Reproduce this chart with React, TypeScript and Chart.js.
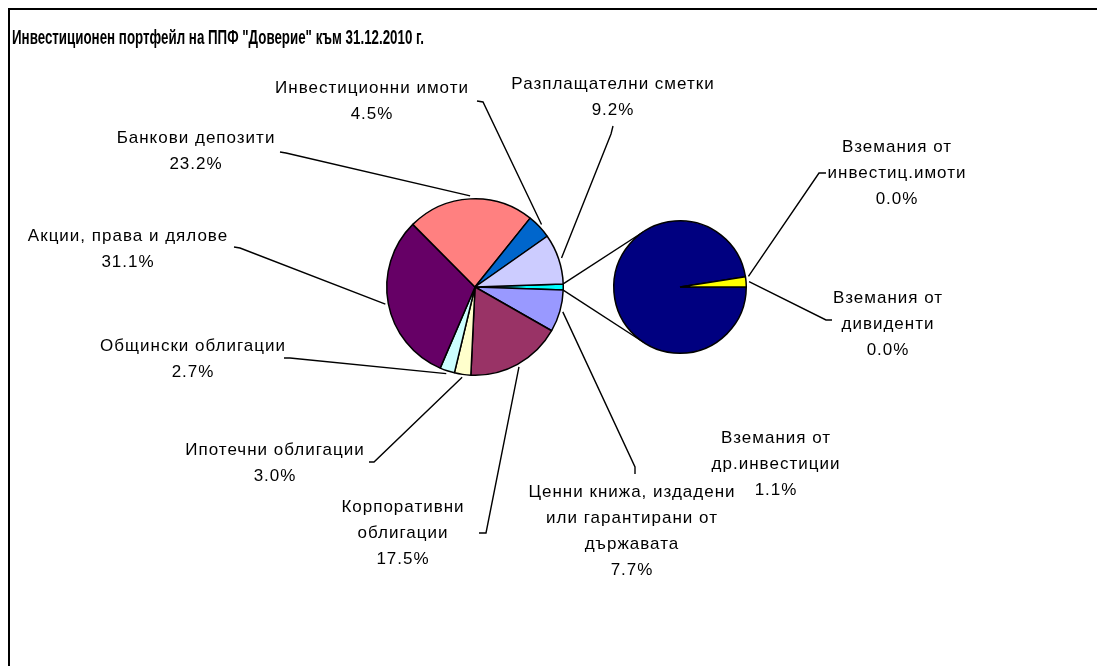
import React, { useEffect, useRef } from 'react';
import { Chart, registerables } from 'chart.js';

Chart.register(...registerables);

const W = 1097;
const H = 666;

const titleText = 'Инвестиционен портфейл на ППФ "Доверие" към 31.12.2010 г.';

// Main pie (first slice = "other", expanded into the secondary pie)
const mainCategories = [
  'Други вземания',
  'Ценни книжа, издадени или гарантирани от държавата',
  'Корпоративни облигации',
  'Ипотечни облигации',
  'Общински облигации',
  'Акции, права и дялове',
  'Банкови депозити',
  'Инвестиционни имоти',
  'Разплащателни сметки',
];
const mainValues = [1.1, 7.7, 17.5, 3.0, 2.7, 31.1, 23.2, 4.5, 9.2];
const mainColors = ['#00FFFF', '#9999FF', '#993366', '#FFFFCC', '#CCFFFF', '#660066', '#FF8080', '#0066CC', '#CCCCFF'];
const mainLabelLines: string[][] = [
  [],
  ['Ценни книжа, издадени', 'или гарантирани от', 'държавата'],
  ['Корпоративни', 'облигации'],
  ['Ипотечни облигации'],
  ['Общински облигации'],
  ['Акции, права и дялове'],
  ['Банкови депозити'],
  ['Инвестиционни имоти'],
  ['Разплащателни сметки'],
];

// Secondary pie
const secCategories = ['Вземания от др.инвестиции', 'Вземания от инвестиц.имоти', 'Вземания от дивиденти'];
const secValues = [1.073, 0.0, 0.027];
const secColors = ['#000080', '#FF00FF', '#FFFF00'];
const secLabelLines: string[][] = [
  ['Вземания от', 'др.инвестиции'],
  ['Вземания от', 'инвестиц.имоти'],
  ['Вземания от', 'дивиденти'],
];

// Label layout (centre x, first line y, leader start + elbow)
type Place = { cx: number; top: number; lead?: number[][] };
const mainPlaces: (Place | null)[] = [
  null,
  { cx: 632, top: 492, lead: [[635, 474], [635, 467]] },
  { cx: 403, top: 507, lead: [[479, 533], [486, 533]] },
  { cx: 275, top: 450, lead: [[369, 462], [374, 462]] },
  { cx: 193, top: 346, lead: [[284, 358], [290, 358]] },
  { cx: 128, top: 236, lead: [[234, 247], [240, 248]] },
  { cx: 196, top: 138, lead: [[280, 152], [286, 153]] },
  { cx: 372, top: 88, lead: [[477, 101], [483, 102]] },
  { cx: 613, top: 84, lead: [[613, 126], [611, 134]] },
];
const secPlaces: Place[] = [
  { cx: 776, top: 438 },
  { cx: 897, top: 147, lead: [[826, 173], [819, 173]] },
  { cx: 888, top: 298, lead: [[832, 320], [826, 320]] },
];

const LINE = 26;
const LABEL_FONT = '17px "Liberation Sans", Arial, sans-serif';

function fmt(v: number) {
  return v.toFixed(1) + '%';
}

function drawLabel(ctx: CanvasRenderingContext2D, lines: string[], pct: string, p: Place) {
  ctx.save();
  ctx.font = LABEL_FONT;
  (ctx as any).letterSpacing = '1px';
  ctx.fillStyle = '#000';
  ctx.textAlign = 'center';
  ctx.textBaseline = 'middle';
  const all = [...lines, pct];
  all.forEach((t, i) => ctx.fillText(t, p.cx, p.top + i * LINE));
  ctx.restore();
}

function drawLeader(ctx: CanvasRenderingContext2D, p: Place, arc: any) {
  if (!p.lead) return;
  const a = (arc.startAngle + arc.endAngle) / 2;
  const r = arc.outerRadius + 3;
  const ex = arc.x + r * Math.cos(a);
  const ey = arc.y + r * Math.sin(a);
  ctx.save();
  ctx.strokeStyle = '#000';
  ctx.lineWidth = 1.4;
  ctx.beginPath();
  ctx.moveTo(p.lead[0][0], p.lead[0][1]);
  ctx.lineTo(p.lead[1][0], p.lead[1][1]);
  ctx.lineTo(ex, ey);
  ctx.stroke();
  ctx.restore();
}

export default function App() {
  const mainRef = useRef<HTMLCanvasElement>(null);
  const secRef = useRef<HTMLCanvasElement>(null);

  useEffect(() => {
    const total = mainValues.reduce((s, v) => s + v, 0);
    const mainRotation = 90 - ((mainValues[0] / total) * 360) / 2;

    const mainDecor = {
      id: 'mainDecor',
      beforeDraw(chart: any) {
        const ctx = chart.ctx as CanvasRenderingContext2D;
        ctx.save();
        ctx.fillStyle = '#fff';
        ctx.fillRect(0, 0, W, H);
        ctx.strokeStyle = '#000';
        ctx.lineWidth = 2;
        ctx.beginPath();
        ctx.moveTo(9, H + 5);
        ctx.lineTo(9, 9);
        ctx.lineTo(W + 5, 9);
        ctx.stroke();
        ctx.restore();
      },
      afterDraw(chart: any) {
        const ctx = chart.ctx as CanvasRenderingContext2D;
        // title
        ctx.save();
        ctx.font = 'bold 20px "Liberation Sans", Arial, sans-serif';
        ctx.fillStyle = '#000';
        ctx.textAlign = 'left';
        ctx.textBaseline = 'alphabetic';
        const tw = ctx.measureText(titleText).width;
        const target = 412;
        ctx.translate(12, 44);
        ctx.scale(target / tw, 1);
        ctx.fillText(titleText, 0, 0);
        ctx.restore();

        const meta = chart.getDatasetMeta(0);
        mainPlaces.forEach((p, i) => {
          if (!p) return;
          drawLeader(ctx, p, meta.data[i]);
          drawLabel(ctx, mainLabelLines[i], fmt(mainValues[i]), p);
        });
      },
    };

    const mainChart = new Chart(mainRef.current!, {
      type: 'pie',
      data: {
        labels: mainCategories,
        datasets: [
          {
            data: mainValues,
            backgroundColor: mainColors,
            borderColor: '#000',
            borderWidth: 1.5,
          },
        ],
      },
      options: {
        responsive: false,
        animation: false,
        events: [],
        rotation: mainRotation,
        layout: { padding: { left: 386, right: W - 564, top: 198, bottom: H - 376 } },
        plugins: { legend: { display: false }, tooltip: { enabled: false } },
      },
      plugins: [mainDecor],
    } as any);

    const secDecor = {
      id: 'secDecor',
      beforeDatasetsDraw(chart: any) {
        const ctx = chart.ctx as CanvasRenderingContext2D;
        const other: any = mainChart.getDatasetMeta(0).data[0];
        const c: any = chart.getDatasetMeta(0).data[0];
        const R = other.outerRadius;
        const r = c.outerRadius;
        const pts = [other.startAngle, other.endAngle].map((ang: number, k: number) => {
          const px = other.x + R * Math.cos(ang);
          const py = other.y + R * Math.sin(ang);
          const phi = Math.atan2(py - c.y, px - c.x);
          const d = Math.hypot(px - c.x, py - c.y);
          const al = Math.acos(Math.min(1, r / d));
          const t = k === 0 ? phi + al : phi - al;
          return [px, py, c.x + r * Math.cos(t), c.y + r * Math.sin(t)];
        });
        ctx.save();
        ctx.strokeStyle = '#000';
        ctx.lineWidth = 1.4;
        pts.forEach((q) => {
          ctx.beginPath();
          ctx.moveTo(q[0], q[1]);
          ctx.lineTo(q[2], q[3]);
          ctx.stroke();
        });
        ctx.restore();
      },
      afterDraw(chart: any) {
        const ctx = chart.ctx as CanvasRenderingContext2D;
        const meta = chart.getDatasetMeta(0);
        secPlaces.forEach((p, i) => {
          drawLeader(ctx, p, meta.data[i]);
          drawLabel(ctx, secLabelLines[i], fmt(secValues[i]), p);
        });
      },
    };

    const secChart = new Chart(secRef.current!, {
      type: 'pie',
      data: {
        labels: secCategories,
        datasets: [
          {
            data: secValues,
            backgroundColor: secColors,
            borderColor: '#000',
            borderWidth: 1.5,
          },
        ],
      },
      options: {
        responsive: false,
        animation: false,
        events: [],
        rotation: 90,
        layout: { padding: { left: 613, right: W - 747, top: 220, bottom: H - 354 } },
        plugins: { legend: { display: false }, tooltip: { enabled: false } },
      },
      plugins: [secDecor],
    } as any);

    return () => {
      secChart.destroy();
      mainChart.destroy();
    };
  }, []);

  return (
    <div style={{ position: 'fixed', left: 0, top: 0, width: W, height: H, background: '#fff' }}>
      <canvas ref={mainRef} width={W} height={H} style={{ position: 'absolute', left: 0, top: 0 }} />
      <canvas ref={secRef} width={W} height={H} style={{ position: 'absolute', left: 0, top: 0 }} />
    </div>
  );
}
